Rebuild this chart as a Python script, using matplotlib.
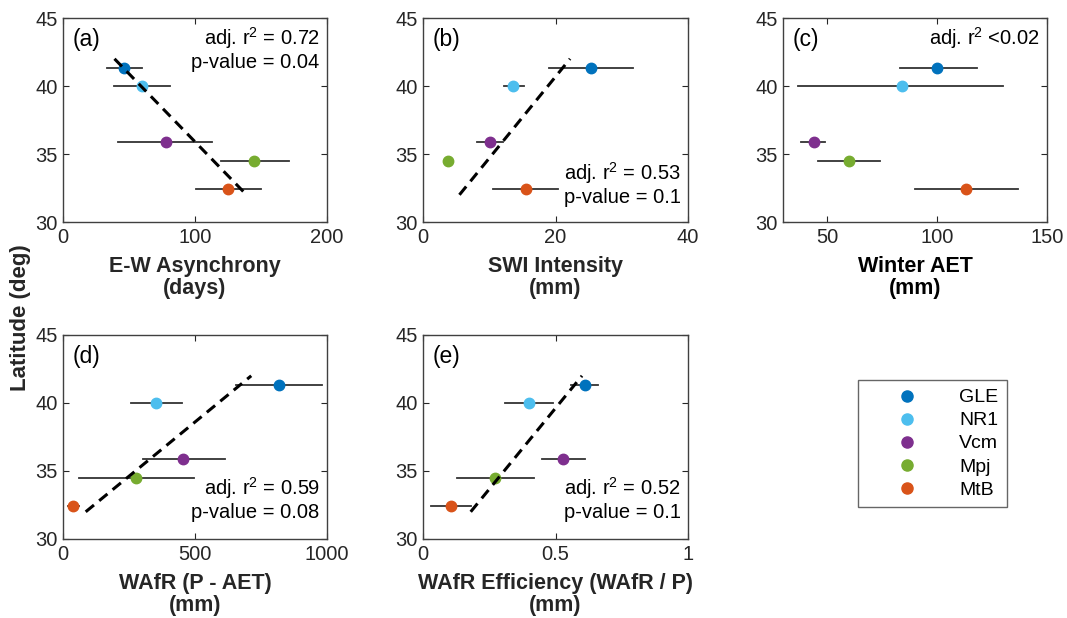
import matplotlib.pyplot as plt
from matplotlib.lines import Line2D

plt.rcParams['font.family'] = ['Liberation Sans', 'DejaVu Sans']
plt.rcParams['mathtext.default'] = 'regular'

# sites and colours (MATLAB default order)
sites = ['GLE', 'NR1', 'Vcm', 'Mpj', 'MtB']
colors = ['#0072BD', '#4DBEEE', '#7E2F8E', '#77AC30', '#D95319']
lat = [41.35, 40.0, 35.9, 34.45, 32.4]

# (a) E-W asynchrony (days)
asyn = [46, 60, 78, 145, 125]
asyn_lo = [33, 39, 42, 120, 101]
asyn_hi = [60, 81, 113, 171, 150]
asyn_fit_x = [39, 139]
asyn_fit_y = [42, 32]

# (b) SWI intensity (mm)
swi = [25.3, 13.6, 10.1, 3.8, 15.5]
swi_lo = [19.0, 12.2, 8.1, 3.8, 10.6]
swi_hi = [31.7, 15.2, 12.1, 3.8, 20.4]
swi_fit_x = [5.5, 22.2]
swi_fit_y = [32, 42]

# (c) winter AET (mm)
aet = [100, 84, 44, 60, 113]
aet_lo = [83, 37, 38, 46, 90]
aet_hi = [118, 130, 49, 74, 137]

# (d) WAfR (P - AET) (mm)
wafr = [818, 351, 456, 275, 39]
wafr_lo = [656, 256, 304, 60, 20]
wafr_hi = [981, 452, 614, 497, 60]
wafr_fit_x = [86, 713]
wafr_fit_y = [32, 42]

# (e) WAfR efficiency
eff = [0.61, 0.40, 0.53, 0.27, 0.105]
eff_lo = [0.56, 0.31, 0.45, 0.13, 0.03]
eff_hi = [0.66, 0.49, 0.61, 0.42, 0.18]
eff_fit_x = [0.18, 0.60]
eff_fit_y = [32, 42]

W, H = 1067, 618
fig = plt.figure(figsize=(W / 100, H / 100), dpi=100)

def px_axes(x0, y0, x1, y1):
    return fig.add_axes([x0 / W, 1 - y1 / H, (x1 - x0) / W, (y1 - y0) / H])

gray = '#262626'

def panel(ax, x, lo, hi, fit_x, fit_y, xlim, xticks, label, xlabel, stats, stats_pos, xlabel_color=gray):
    for i in range(len(sites)):
        ax.plot([lo[i], hi[i]], [lat[i], lat[i]], color='#333333', lw=1.3, zorder=2)
    for i in range(len(sites)):
        ax.plot(x[i], lat[i], 'o', color=colors[i], ms=7.5, zorder=3)
    if fit_x is not None:
        ax.plot(fit_x, fit_y, color='black', lw=2.2, ls=(0, (3.5, 2.2)), zorder=4)
    ax.set_xlim(xlim)
    ax.set_ylim(30, 45)
    ax.set_xticks(xticks)
    ax.set_yticks([30, 35, 40, 45])
    ax.tick_params(direction='in', top=True, right=True, length=4, labelsize=14.5,
                   colors=gray, labelcolor=gray, pad=4)
    for s in ax.spines.values():
        s.set_color('#404040')
        s.set_linewidth(1.0)
    ax.text(0.035, 0.897, label, transform=ax.transAxes, fontsize=16.5, va='center', ha='left')
    ax.set_xlabel(xlabel, fontsize=15.5, fontweight='bold', color=xlabel_color, linespacing=1.02, labelpad=7)
    yy = stats_pos
    for j, line in enumerate(stats):
        ax.text(0.972, yy - j * 0.122, line, transform=ax.transAxes, fontsize=14.5,
                ha='right', va='center')

axa = px_axes(63, 18, 327, 222)
panel(axa, asyn, asyn_lo, asyn_hi, asyn_fit_x, asyn_fit_y, (0, 200), [0, 100, 200], '(a)',
      'E-W Asynchrony\n(days)', ['adj. r$^2$ = 0.72', 'p-value = 0.04'], 0.902)

axb = px_axes(423, 18, 688, 222)
panel(axb, swi, swi_lo, swi_hi, swi_fit_x, swi_fit_y, (0, 40), [0, 20, 40], '(b)',
      'SWI Intensity\n(mm)', ['adj. r$^2$ = 0.53', 'p-value = 0.1'], 0.24)

axc = px_axes(783, 18, 1047, 222)
panel(axc, aet, aet_lo, aet_hi, None, None, (30, 150), [50, 100, 150], '(c)',
      'Winter AET\n(mm)', ['adj. r$^2$ <0.02'], 0.902, xlabel_color='black')

axd = px_axes(63, 335, 327, 539)
panel(axd, wafr, wafr_lo, wafr_hi, wafr_fit_x, wafr_fit_y, (0, 1000), [0, 500, 1000], '(d)',
      'WAfR (P - AET)\n(mm)', ['adj. r$^2$ = 0.59', 'p-value = 0.08'], 0.25)

axe = px_axes(423, 335, 688, 539)
panel(axe, eff, eff_lo, eff_hi, eff_fit_x, eff_fit_y, (0, 1), [0, 0.5, 1], '(e)',
      'WAfR Efficiency (WAfR / P)\n(mm)', ['adj. r$^2$ = 0.52', 'p-value = 0.1'], 0.25)
axe.set_xticklabels(['0', '0.5', '1'])

fig.text(21 / W, 1 - 318 / H, 'Latitude (deg)', rotation=90, fontsize=16, fontweight='bold',
         color=gray, ha='center', va='center')

handles = [Line2D([], [], marker='o', ls='none', color=c, ms=8) for c in colors]
leg = fig.legend(handles, sites, loc='upper left', bbox_to_anchor=(858 / W, 1 - 380 / H),
                 fontsize=14, frameon=True, fancybox=False, borderaxespad=0,
                 borderpad=0.45, handlelength=4.1, handletextpad=0.65, labelspacing=0.28)
leg.get_frame().set_edgecolor('#404040')
leg.get_frame().set_linewidth(1.0)

fig.savefig('out.png', dpi=100)
